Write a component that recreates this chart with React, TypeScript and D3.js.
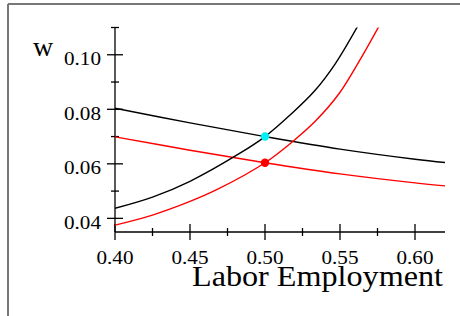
import React from "react";
import * as d3 from "d3";

const red = "#ff0000";
const cyan = "#00f0f5";

// labour demand (falling curves)
const demandL = [0.4, 0.45, 0.5, 0.55, 0.6, 0.62];
const demandHigh = [0.0804, 0.075, 0.07, 0.0654, 0.0617, 0.0605];
const demandLow = [0.0699, 0.065, 0.0604, 0.0563, 0.053, 0.0519];

// labour supply (rising curves)
const supplyHighL = [0.4, 0.425, 0.45, 0.4833, 0.5, 0.5167, 0.5333, 0.5467, 0.5618];
const supplyHigh = [0.0437, 0.0478, 0.0536, 0.0639, 0.07, 0.0779, 0.0869, 0.0966, 0.1105];
const supplyLowL = [0.4, 0.425, 0.45, 0.4678, 0.5, 0.5189, 0.5333, 0.5493, 0.5633, 0.576];
const supplyLow = [0.0375, 0.0412, 0.0462, 0.0505, 0.0604, 0.0684, 0.0755, 0.0857, 0.0981, 0.1105];

// equilibrium points
const eqL = [0.5, 0.5];
const eqW = [0.07, 0.0604];
const eqColor = [cyan, red];

const xMajor = [0.4, 0.45, 0.5, 0.55, 0.6];
const xMinor = [0.425, 0.475, 0.525, 0.575];
const yMajor = [0.04, 0.06, 0.08, 0.1];
const yMinor = [0.05, 0.07, 0.09, 0.11];

const font = "'Liberation Serif', 'Times New Roman', serif";

export default function App() {
  const x = d3.scaleLinear().domain([0.4, 0.62]).range([115, 445]);
  const y = d3.scaleLinear().domain([0.035, 0.11]).range([232, 27.5]);

  const lineGen = d3
    .line<[number, number]>()
    .x(d => x(d[0]))
    .y(d => y(d[1]))
    .curve(d3.curveCatmullRom.alpha(0.5));

  const zip = (a: number[], b: number[]) => a.map((v, i) => [v, b[i]] as [number, number]);

  const curves = [
    { d: lineGen(zip(demandL, demandHigh)), c: "#000" },
    { d: lineGen(zip(demandL, demandLow)), c: red },
    { d: lineGen(zip(supplyHighL, supplyHigh)), c: "#000" },
    { d: lineGen(zip(supplyLowL, supplyLow)), c: red },
  ];

  const x0 = x(0.4);
  const y0 = y(0.035);

  return (
    <svg
      width={460}
      height={316}
      style={{ position: "absolute", left: 0, top: 0, display: "block", background: "#fff" }}
    >
      <defs>
        <clipPath id="plot">
          <rect x={x(0.4)} y={y(0.11)} width={x(0.62) - x(0.4)} height={y(0.035) - y(0.11)} />
        </clipPath>
      </defs>

      {/* frame */}
      <line x1={8} y1={4} x2={460} y2={4} stroke="#777" strokeWidth={2} />
      <line x1={8} y1={4} x2={8} y2={316} stroke="#777" strokeWidth={2} />

      {/* axes */}
      <g stroke="#000" strokeWidth={1.3}>
        <line x1={x0} y1={y(0.11)} x2={x0} y2={y0} />
        <line x1={x0} y1={y0} x2={x(0.62)} y2={y0} />
        {xMajor.map(t => (
          <line key={"xM" + t} x1={x(t)} x2={x(t)} y1={y0 - 8} y2={y0 + 8} />
        ))}
        {xMinor.map(t => (
          <line key={"xm" + t} x1={x(t)} x2={x(t)} y1={y0 - 4} y2={y0 + 4} />
        ))}
        {yMajor.map(t => (
          <line key={"yM" + t} x1={x0 - 8} x2={x0 + 8} y1={y(t)} y2={y(t)} />
        ))}
        {yMinor.map(t => (
          <line key={"ym" + t} x1={x0 - 4} x2={x0 + 4} y1={y(t)} y2={y(t)} />
        ))}
      </g>

      <g fontFamily={font} fontSize={19} fill="#000">
        {xMajor.map(t => (
          <text
            key={"xl" + t}
            x={x(t)}
            y={264}
            textAnchor="middle"
            textLength={37}
            lengthAdjust="spacingAndGlyphs"
          >
            {d3.format(".2f")(t)}
          </text>
        ))}
        {yMajor.map(t => (
          <text
            key={"yl" + t}
            x={101}
            y={y(t) + 10.5}
            textAnchor="end"
            textLength={37}
            lengthAdjust="spacingAndGlyphs"
          >
            {d3.format(".2f")(t)}
          </text>
        ))}
      </g>

      <text x={33} y={56} fontFamily={font} fontSize={28} fill="#000">
        w
      </text>
      <text
        x={192}
        y={286}
        fontFamily={font}
        fontSize={29}
        fill="#000"
        textLength={251}
        lengthAdjust="spacingAndGlyphs"
      >
        Labor Employment
      </text>

      <g clipPath="url(#plot)" fill="none" strokeWidth={1.4}>
        {curves.map((c, i) => (
          <path key={i} d={c.d || ""} stroke={c.c} />
        ))}
      </g>

      {eqL.map((l, i) => (
        <circle key={"eq" + i} cx={x(l)} cy={y(eqW[i])} r={4.2} fill={eqColor[i]} />
      ))}
    </svg>
  );
}
